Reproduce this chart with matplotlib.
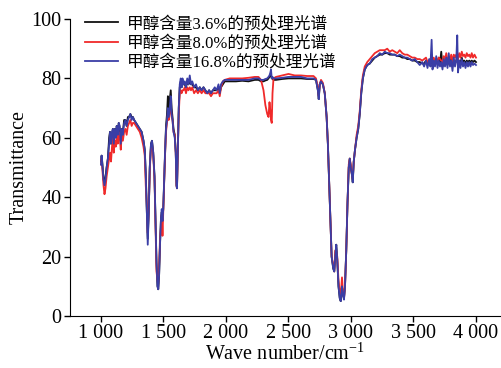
import numpy as np
import matplotlib.pyplot as plt

# wave number (cm^-1)
wave = [1000, 1005, 1012, 1020, 1028, 1036, 1045, 1055, 1065, 1072, 1080, 1088, 1095, 1102, 1110,
        1118, 1126, 1134, 1142, 1150, 1158, 1166, 1175, 1185, 1195, 1205, 1215, 1225, 1235, 1245,
        1255, 1265, 1280, 1295, 1310, 1325, 1340, 1350, 1358, 1366, 1374, 1382, 1390, 1400, 1408,
        1418, 1428, 1436, 1444, 1452, 1458, 1465, 1472, 1480, 1486, 1492, 1498, 1505, 1512, 1520,
        1528, 1535, 1542, 1550, 1558, 1565, 1572, 1580, 1590, 1598, 1604, 1608, 1614, 1622, 1630,
        1638, 1645, 1652, 1660, 1670, 1680, 1690, 1700, 1710, 1720, 1730, 1745, 1760, 1775, 1790,
        1805, 1820, 1835, 1850, 1865, 1880, 1895, 1910, 1925, 1940, 1950, 1960, 1975, 1990, 2030,
        2080, 2130, 2180, 2230, 2260, 2280, 2300, 2315, 2330, 2340, 2348, 2355, 2360, 2366, 2372,
        2380, 2400, 2450, 2500, 2550, 2600, 2650, 2700, 2720, 2735, 2742, 2750, 2760, 2775, 2790,
        2805, 2815, 2825, 2835, 2845, 2858, 2866, 2874, 2882, 2890, 2900, 2910, 2918, 2928, 2936,
        2944, 2952, 2962, 2972, 2982, 2990, 2998, 3006, 3014, 3022, 3032, 3045, 3058, 3070, 3082,
        3095, 3110, 3130, 3150, 3170, 3190, 3210, 3230, 3250, 3270, 3290, 3310, 3330, 3350, 3370,
        3390, 3410, 3430, 3450, 3470, 3490, 3510, 3530, 3550, 3570, 3585, 3600, 3612, 3625, 3635,
        3645, 3652, 3662, 3672, 3682, 3692, 3702, 3712, 3722, 3732, 3742, 3752, 3762, 3772, 3782,
        3792, 3802, 3812, 3822, 3832, 3842, 3850, 3856, 3866, 3876, 3886, 3896, 3906, 3916, 3926,
        3936, 3946, 3956, 3966, 3976, 3988, 4000]

# 甲醇含量3.6%
t_36 = [52, 54, 51, 46, 45, 47, 50, 53, 60, 62, 58, 61, 63, 58, 63,
        61, 64, 60, 65, 63, 59, 63, 62, 66, 66, 64, 67, 67, 68, 67,
        67, 66, 65, 64, 63, 62, 59, 56, 48, 36, 26, 35, 50, 58, 59,
        55, 47, 32, 18, 10, 9, 14, 24, 33, 35, 32, 36, 45, 55, 64,
        68, 74, 70, 73, 76, 70, 67, 63, 61, 55, 44, 43, 55, 70, 77,
        79, 77, 79, 78, 78, 77, 79, 78, 79, 78, 78, 77, 77, 76, 77,
        76, 77, 76, 75, 76, 75, 76, 76, 76, 77, 75, 77, 78, 79, 79,
        79, 79.2, 79, 79.5, 79.5, 79, 79, 79.3, 79.5, 80, 80.5, 81, 81, 80, 80,
        79.5, 79.5, 79.8, 80, 80, 80, 79.8, 79.8, 79.5, 76, 73, 78, 79, 78, 75,
        67, 58, 45, 32, 20, 16, 15, 20, 24, 19, 10, 6, 5, 10, 7,
        6, 10, 22, 38, 50, 53, 50, 48, 45, 52, 56, 60, 63, 68, 75,
        80, 83, 84.5, 85, 86, 87, 87.5, 88, 88, 88.5, 88.5, 88, 88, 88, 87.5,
        87.5, 87, 87, 86.5, 86.5, 86, 86, 85.5, 85.5, 85, 85, 86, 84.5, 85.5, 85,
        88, 84, 86, 85, 86, 85, 87, 85, 89, 84, 86, 85, 87, 84.5, 86,
        85, 87, 84, 86, 85, 86, 87, 85, 86, 85, 87, 85.5, 86, 85, 86,
        85.5, 86, 85.5, 86, 85.5, 86, 85.5]

# 甲醇含量8.0%
t_80 = [51, 53, 49, 44, 41, 43, 47, 50, 53, 55, 52, 57, 60, 55, 59,
        57, 61, 58, 62, 60, 56, 61, 59, 62, 63, 61, 64, 65, 66, 64,
        65, 65, 64, 63, 62, 60, 57, 54, 44, 38, 28, 36, 49, 57, 58,
        54, 46, 30, 15, 12, 11, 17, 26, 30, 34, 27, 35, 44, 54, 62,
        65, 68, 66, 69, 71, 67, 66, 62, 61, 55, 44, 43, 55, 68, 75,
        76, 75, 76, 76, 77, 75, 77, 76, 77, 76, 77, 75, 76, 75, 76,
        75, 76, 75, 75, 75, 74, 75, 75, 75, 76, 74, 77, 79, 79.5, 80,
        80, 80, 80.2, 80.5, 80.5, 79.5, 76, 71, 68, 67, 72, 69, 66, 65, 75,
        80, 80.5, 81, 81.5, 81, 81, 80.8, 80.8, 80, 77, 74, 78, 79.5, 78.5, 75,
        67, 58, 45, 32, 20, 17, 15, 22, 22, 20, 12, 8, 7, 13, 8,
        6, 10, 22, 38, 51, 53, 51, 48, 46, 52, 56, 61, 64, 69, 76,
        81, 84, 85.5, 86.5, 87.5, 88.5, 89, 89.5, 89.5, 89.5, 90, 89, 89.5, 89, 88.5,
        89.5, 88.5, 88, 88, 87.5, 87, 87, 86.5, 86.5, 86, 86.5, 87, 85.5, 86, 86.5,
        87, 86, 87, 85.5, 86.5, 86, 87, 86.5, 86, 85.5, 87.5, 86, 88.5, 86, 87,
        86.5, 88, 85.5, 88, 87, 88, 88, 86.5, 88.5, 87, 89, 87.5, 88, 87, 88.5,
        87.5, 88, 87, 88.5, 87, 88, 87]

# 甲醇含量16.8%
t_168 = [51, 54, 50, 46, 44, 46, 50, 53, 58, 62, 58, 62, 63, 58, 63,
         60, 64, 61, 65, 64, 58, 63, 61, 65, 66, 64, 66, 67, 68, 66,
         67, 66, 65, 64, 63, 62, 59, 56, 48, 36, 24, 35, 50, 58, 59,
         55, 47, 32, 18, 10, 9, 14, 24, 33, 36, 32, 36, 45, 55, 63,
         66, 70, 67, 70, 74, 68, 66, 62, 60, 55, 44, 43, 55, 70, 78,
         80, 77, 80, 78, 79, 77, 80, 78, 81, 78, 79, 77, 78, 76, 77,
         76, 77, 76, 75, 76, 75, 76, 77, 76, 78, 75, 78, 79, 79.5, 79.5,
         79.5, 79.5, 79.5, 80, 80, 79.5, 79.5, 79.8, 80, 80.5, 81, 82, 83, 80, 80.5,
         80, 80, 80.2, 80.5, 80.5, 80.5, 80, 80, 79.5, 76, 73, 78, 79, 78, 75,
         67, 58, 45, 32, 20, 16, 15, 20, 24, 19, 10, 6, 5, 10, 7,
         5.5, 10, 22, 38, 50, 53, 50, 48, 45, 52, 56, 60, 63, 68, 75,
         80, 83, 84.5, 85, 86.5, 87, 87.5, 88.5, 88, 89, 88.5, 88.5, 88, 88, 87.5,
         88, 87.5, 87, 87, 86.5, 86, 86.5, 85.5, 84.5, 85.5, 84, 86, 83.5, 86.5, 84,
         93, 83, 86, 84, 87.5, 83.5, 86, 84, 85.5, 83, 86.5, 84, 87, 83.5, 88.5,
         84, 86, 82.5, 87, 84, 86, 94.5, 82, 86, 83.5, 86.5, 84, 85.5, 83.5, 85.5,
         84, 85.5, 84, 85.5, 84.5, 85, 84.5]

labels = ['甲醇含量3.6%的预处理光谱', '甲醇含量8.0%的预处理光谱', '甲醇含量16.8%的预处理光谱']
colors = ['#111111', '#f02a2a', '#3a3ea6']

plt.rcParams['font.family'] = ['Liberation Serif', 'Noto Sans CJK SC']
plt.rcParams['mathtext.fontset'] = 'stix'

fig = plt.figure(figsize=(5.02, 3.68), dpi=100)
ax = fig.add_axes([70 / 502, 52 / 368, 430 / 502, 297 / 368])

for y, lab, c in zip([t_36, t_80, t_168], labels, colors):
    ax.plot(wave, y, color=c, lw=1.3, label=lab)

ax.set_xlim(752, 4192)
ax.set_ylim(0, 100)
ax.set_xticks([1000, 1500, 2000, 2500, 3000, 3500, 4000])
ax.set_xticklabels(['1 000', '1 500', '2 000', '2 500', '3 000', '3 500', '4 000'])
ax.set_yticks([0, 20, 40, 60, 80, 100])
ax.tick_params(labelsize=14.5, length=4, width=1, direction='out', pad=2)
ax.spines['top'].set_visible(False)
ax.spines['right'].set_visible(False)
ax.set_xlabel('Wave number/cm$^{\\mathregular{-1}}$', fontsize=14.5, labelpad=0)
ax.set_ylabel('Transmittance', fontsize=14.5, labelpad=2)

ax.legend(loc='upper left', bbox_to_anchor=(0.035, 1.01), frameon=False, fontsize=12,
          handlelength=2.0, handletextpad=0.5, labelspacing=0.2, borderpad=0,
          borderaxespad=0)

fig.savefig('out.png', dpi=100)
